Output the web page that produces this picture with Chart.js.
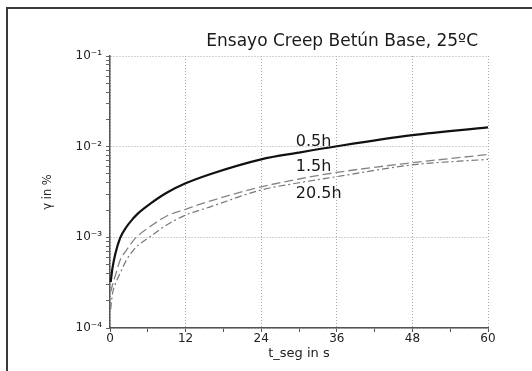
<!DOCTYPE html>
<html>
<head>
<meta charset="utf-8">
<script src="https://cdn.jsdelivr.net/npm/chart.js@4"></script>
<style>
html, body { margin: 0; padding: 0; background: #fff; }
</style>
</head>
<body>
<canvas id="canvas_creep" width="532" height="371"></canvas>
<script>
// creep data (t in s, gamma in %)
const t_seg = [0.1, 0.4, 0.8, 1.6, 2.6, 3.7, 4.5, 6.4, 9, 12, 16, 24, 30, 36, 48, 60];
const gamma_05h = [3.2e-4, 4.6e-4, 6.4e-4, 9.8e-4, 1.3e-3, 1.62e-3, 1.85e-3, 2.35e-3, 3.1e-3, 3.94e-3, 5.0e-3, 7.25e-3, 8.6e-3, 1.01e-2, 1.34e-2, 1.63e-2];
const gamma_15h = [2.5e-4, 3.0e-4, 3.7e-4, 5.6e-4, 7.2e-4, 9.2e-4, 1.05e-3, 1.32e-3, 1.72e-3, 2.04e-3, 2.53e-3, 3.6e-3, 4.4e-3, 5.2e-3, 6.65e-3, 8.2e-3];
const gamma_205h = [1.6e-4, 2.4e-4, 3.0e-4, 4.0e-4, 5.6e-4, 7.2e-4, 8.2e-4, 1.02e-3, 1.37e-3, 1.76e-3, 2.18e-3, 3.33e-3, 4.0e-3, 4.67e-3, 6.3e-3, 7.25e-3];
const series_labels = ['0.5h', '1.5h', '20.5h'];

const x_ticks = [0, 12, 24, 36, 48, 60];
const x_minor = [6, 18, 30, 42, 54];
const y_ticks = [1e-4, 1e-3, 1e-2, 1e-1];
const y_tick_labels = ['10⁻⁴', '10⁻³', '10⁻²', '10⁻¹'];
const chart_title = 'Ensayo Creep Betún Base, 25ºC';

const font_main = "'DejaVu Sans', sans-serif";

function toPoints(ys) {
    return t_seg.map((t, i) => ({x: t, y: ys[i]}));
}
function isDecade(v) {
    return y_ticks.some(d => Math.abs(v - d) / d < 1e-6);
}

// frame, title and curve labels
const overlay = {
    id: 'overlay',
    beforeDraw(chart) {
        const ctx = chart.ctx;
        ctx.save();
        ctx.strokeStyle = '#3a3a3a';
        ctx.lineWidth = 2;
        ctx.beginPath();
        ctx.moveTo(7, 371);
        ctx.lineTo(7, 8);
        ctx.lineTo(532, 8);
        ctx.stroke();
        ctx.restore();
    },
    afterDraw(chart) {
        const ctx = chart.ctx;
        const xs = chart.scales.x, ys = chart.scales.y;
        ctx.save();
        ctx.fillStyle = '#1a1a1a';
        ctx.font = '17px ' + font_main;
        ctx.textAlign = 'right';
        ctx.textBaseline = 'middle';
        ctx.fillText(chart_title, 478, 42);

        const label_at = [[29.5, 1.12e-2], [29.5, 5.97e-3], [29.5, 3.0e-3]];
        ctx.font = '16px ' + font_main;
        ctx.textAlign = 'left';
        series_labels.forEach((s, i) => {
            ctx.fillText(s, xs.getPixelForValue(label_at[i][0]), ys.getPixelForValue(label_at[i][1]));
        });
        ctx.restore();
    }
};

const data_creep = {
    datasets: [
        {
            label: series_labels[0],
            data: toPoints(gamma_05h),
            borderColor: '#111',
            borderWidth: 2.2,
        },
        {
            label: series_labels[1],
            data: toPoints(gamma_15h),
            borderColor: '#858585',
            borderWidth: 1.3,
            borderDash: [9, 4],
        },
        {
            label: series_labels[2],
            data: toPoints(gamma_205h),
            borderColor: '#777',
            borderWidth: 1.2,
            borderDash: [7, 3, 2, 3],
        },
    ]
};

const config_creep = {
    type: 'line',
    data: data_creep,
    options: {
        responsive: false,
        devicePixelRatio: 1,
        animation: false,
        layout: { padding: { left: 41, right: 44, top: 56, bottom: 10 } },
        elements: {
            point: { radius: 0 },
            line: { cubicInterpolationMode: 'monotone', fill: false },
        },
        plugins: {
            legend: { display: false },
            tooltip: { enabled: false },
        },
        scales: {
            x: {
                type: 'linear',
                min: 0,
                max: 60,
                afterBuildTicks: (scale) => {
                    scale.ticks = x_ticks.concat(x_minor).sort((a, b) => a - b).map(v => ({value: v}));
                },
                afterFit: (scale) => { scale.height = 33; },
                ticks: {
                    autoSkip: false,
                    maxRotation: 0,
                    padding: 0,
                    color: '#222',
                    font: { family: font_main, size: 12 },
                    callback: (v) => x_ticks.includes(v) ? String(v) : '',
                },
                grid: {
                    color: (c) => (c.tick && x_ticks.includes(c.tick.value)) ? '#a8a8a8' : 'rgba(0,0,0,0)',
                    tickColor: '#555',
                    tickLength: 4,
                    lineWidth: 1,
                },
                border: { display: true, color: '#555', width: 1.5, dash: [1, 2] },
                title: {
                    display: true,
                    text: 't_seg in s',
                    color: '#222',
                    font: { family: font_main, size: 13 },
                    padding: 0,
                },
            },
            y: {
                type: 'logarithmic',
                min: 1e-4,
                max: 1e-1,
                afterBuildTicks: (scale) => {
                    const ticks = [];
                    y_ticks.slice(0, 3).forEach(d => {
                        for (let k = 1; k < 10; k++) ticks.push({value: k * d});
                    });
                    ticks.push({value: y_ticks[3]});
                    scale.ticks = ticks;
                },
                afterFit: (scale) => { scale.width = 69; },
                ticks: {
                    autoSkip: false,
                    padding: 4,
                    color: '#222',
                    font: { family: font_main, size: 12 },
                    callback: (v) => {
                        const i = y_ticks.findIndex(d => Math.abs(v - d) / d < 1e-6);
                        return i >= 0 ? y_tick_labels[i] : '';
                    },
                },
                grid: {
                    color: (c) => (c.tick && isDecade(c.tick.value)) ? '#a8a8a8' : 'rgba(0,0,0,0)',
                    tickColor: '#666',
                    tickLength: 4,
                    lineWidth: 1,
                },
                border: { display: true, color: '#555', width: 1.5, dash: [1, 2] },
                title: {
                    display: true,
                    text: 'γ in %',
                    color: '#222',
                    font: { family: font_main, size: 11.5 },
                    padding: 0,
                },
            },
        },
    },
    plugins: [overlay],
};

const canvas_creep = document.getElementById('canvas_creep');
const chart_creep = new Chart(canvas_creep, config_creep);
</script>
</body>
</html>
